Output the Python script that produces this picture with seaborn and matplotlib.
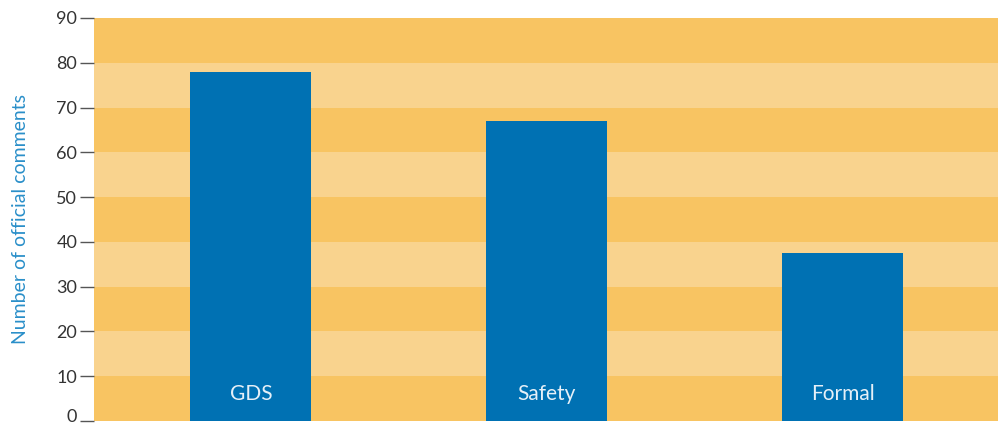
import matplotlib
matplotlib.use("Agg")
import matplotlib.pyplot as plt
import matplotlib.transforms as mtrans
import seaborn as sns
import pandas as pd

categories = ["GDS", "Safety", "Formal"]
values = [78, 67, 37.5]
yticks = [0, 10, 20, 30, 40, 50, 60, 70, 80, 90]

sns.set_style("white")
plt.rcParams['font.family'] = ['Lato', 'DejaVu Sans']

df = pd.DataFrame({"cat": categories, "val": values})

fig = plt.figure(figsize=(9.98, 4.26), dpi=100)
ax = fig.add_axes([94/998, 5/426, 904/998, 403/426])

dark = "#F8C462"
light = "#F9D38E"
for i in range(9):
    ax.axhspan(i*10, (i+1)*10, color=dark if i % 2 == 0 else light, zorder=0, lw=0)

sns.barplot(data=df, x="cat", y="val", color="#0071B3", saturation=1, width=0.41,
            linewidth=0, edgecolor="none", ax=ax, zorder=2)

for i, c in enumerate(categories):
    ax.text(i, 6.0, c, ha="center", va="center", color="#E6F0F8", fontsize=15, zorder=3)

ax.set_xlim(-0.53, 2.525)
ax.set_ylim(0, 90)
ax.set_yticks(yticks)
ax.set_yticklabels([str(t) for t in yticks], fontsize=13, color="#333333")
ax.tick_params(axis="y", length=10, width=1, color="#555555", pad=2, left=True)
lbls = ax.get_yticklabels()
lbls[0].set_transform(lbls[0].get_transform() + mtrans.ScaledTranslation(0, 4/72, fig.dpi_scale_trans))
ax.set_xticks([])
ax.set_xlabel("")
ax.set_ylabel("Number of official comments", color="#2A8FC9", fontsize=14, labelpad=20)
for s in ax.spines.values():
    s.set_visible(False)

fig.savefig("out.png", dpi=100)
